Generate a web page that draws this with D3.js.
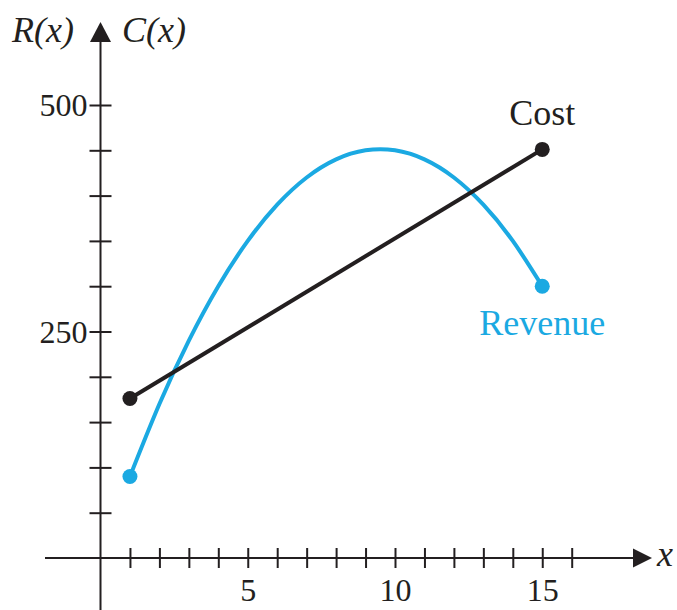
<!DOCTYPE html>
<html>
<head>
<meta charset="utf-8">
<script src="https://cdn.jsdelivr.net/npm/d3@7/dist/d3.min.js"></script>
<style>
  body { margin: 0; background: #fff; }
  svg text { font-family: "Liberation Serif", "DejaVu Serif", serif; }
</style>
</head>
<body>
<div id="chart"></div>
<script>
// values
var xs = [1, 2, 3, 4, 5, 6, 7, 8, 9, 10, 11, 12, 13, 14, 15];
var revenue = [90, 170, 240, 300, 350, 390, 420, 440, 450, 450, 440, 420, 390, 350, 300];
var costX = [1, 15];
var cost = [176, 451];
var xTicks = [1, 2, 3, 4, 5, 6, 7, 8, 9, 10, 11, 12, 13, 14, 15, 16];
var xTickLabels = [5, 10, 15];
var yTicks = [50, 100, 150, 200, 250, 300, 350, 400, 450, 500];
var yTickLabels = [250, 500];

var width = 677, height = 610;
var ink = '#231f20';
var blue = '#1ba9e2';

var svg = d3.select('#chart')
  .append('svg')
  .attr('width', width)
  .attr('height', height);

var x = d3.scaleLinear().domain([0, 16]).range([100.5, 100.5 + 16 * 29.45]);
var y = d3.scaleLinear().domain([0, 500]).range([558, 105]);

// x axis
var xAxis = d3.axisBottom(x)
  .tickValues(xTicks)
  .tickSize(20)
  .tickFormat(function (d) { return xTickLabels.indexOf(d) >= 0 ? d : ''; });
var xAxisG = svg.append('g')
  .attr('transform', 'translate(0,' + y(0) + ')')
  .call(xAxis);
xAxisG.select('.domain').remove();
xAxisG.selectAll('line')
  .attr('y1', -10).attr('y2', 10)
  .attr('stroke', ink).attr('stroke-width', 2);
xAxisG.selectAll('text')
  .attr('y', 43).attr('dy', 0)
  .attr('font-size', '32px')
  .attr('fill', ink)
  .style('font-family', '"Liberation Serif", serif');
svg.append('line')
  .attr('x1', 45).attr('x2', 640)
  .attr('y1', y(0)).attr('y2', y(0))
  .attr('stroke', ink).attr('stroke-width', 2);
svg.append('path')
  .attr('d', 'M633,548.5 L652,558 L633,567.5 Z')
  .attr('fill', ink);
svg.append('text')
  .attr('x', 657).attr('y', 566)
  .attr('font-size', '36px').attr('font-style', 'italic')
  .attr('fill', ink)
  .text('x');

// y axis
var yAxis = d3.axisLeft(y)
  .tickValues(yTicks)
  .tickSize(11)
  .tickFormat(function (d) { return yTickLabels.indexOf(d) >= 0 ? d : ''; });
var yAxisG = svg.append('g')
  .attr('transform', 'translate(' + x(0) + ',0)')
  .call(yAxis);
yAxisG.select('.domain').remove();
yAxisG.selectAll('line')
  .attr('x1', -11).attr('x2', 11)
  .attr('stroke', ink).attr('stroke-width', 2);
yAxisG.selectAll('text')
  .attr('x', -13).attr('dy', '0.34em')
  .attr('font-size', '32px')
  .attr('fill', ink)
  .style('font-family', '"Liberation Serif", serif');
svg.append('line')
  .attr('x1', x(0)).attr('x2', x(0))
  .attr('y1', 610).attr('y2', 35)
  .attr('stroke', ink).attr('stroke-width', 2);
svg.append('path')
  .attr('d', 'M' + (x(0) - 10.5) + ',42 L' + x(0) + ',22 L' + (x(0) + 10.5) + ',42 Z')
  .attr('fill', ink);
svg.append('text')
  .attr('x', 12).attr('y', 42)
  .attr('font-size', '36px').attr('font-style', 'italic')
  .attr('fill', ink)
  .text('R(x)');
svg.append('text')
  .attr('x', 122).attr('y', 42)
  .attr('font-size', '36px').attr('font-style', 'italic')
  .attr('fill', ink)
  .text('C(x)');

// revenue curve
var revData = xs.map(function (d, i) { return [d, revenue[i]]; });
var line = d3.line()
  .x(function (d) { return x(d[0]); })
  .y(function (d) { return y(d[1]); })
  .curve(d3.curveNatural);
svg.append('path')
  .datum(revData)
  .attr('d', line)
  .attr('fill', 'none')
  .attr('stroke', blue)
  .attr('stroke-width', 4);
svg.selectAll('.rev-dot')
  .data([revData[0], revData[revData.length - 1]])
  .enter().append('circle')
  .attr('cx', function (d) { return x(d[0]); })
  .attr('cy', function (d) { return y(d[1]); })
  .attr('r', 7.5)
  .attr('fill', blue);

// cost line
var costData = costX.map(function (d, i) { return [d, cost[i]]; });
svg.append('path')
  .datum(costData)
  .attr('d', d3.line().x(function (d) { return x(d[0]); }).y(function (d) { return y(d[1]); }))
  .attr('fill', 'none')
  .attr('stroke', ink)
  .attr('stroke-width', 4);
svg.selectAll('.cost-dot')
  .data(costData)
  .enter().append('circle')
  .attr('cx', function (d) { return x(d[0]); })
  .attr('cy', function (d) { return y(d[1]); })
  .attr('r', 7.5)
  .attr('fill', ink);

// labels
svg.append('text')
  .attr('x', x(15)).attr('y', 125)
  .attr('text-anchor', 'middle')
  .attr('font-size', '36px')
  .attr('fill', ink)
  .text('Cost');
svg.append('text')
  .attr('x', x(15)).attr('y', 335)
  .attr('text-anchor', 'middle')
  .attr('font-size', '36px')
  .attr('fill', blue)
  .text('Revenue');
</script>
</body>
</html>
